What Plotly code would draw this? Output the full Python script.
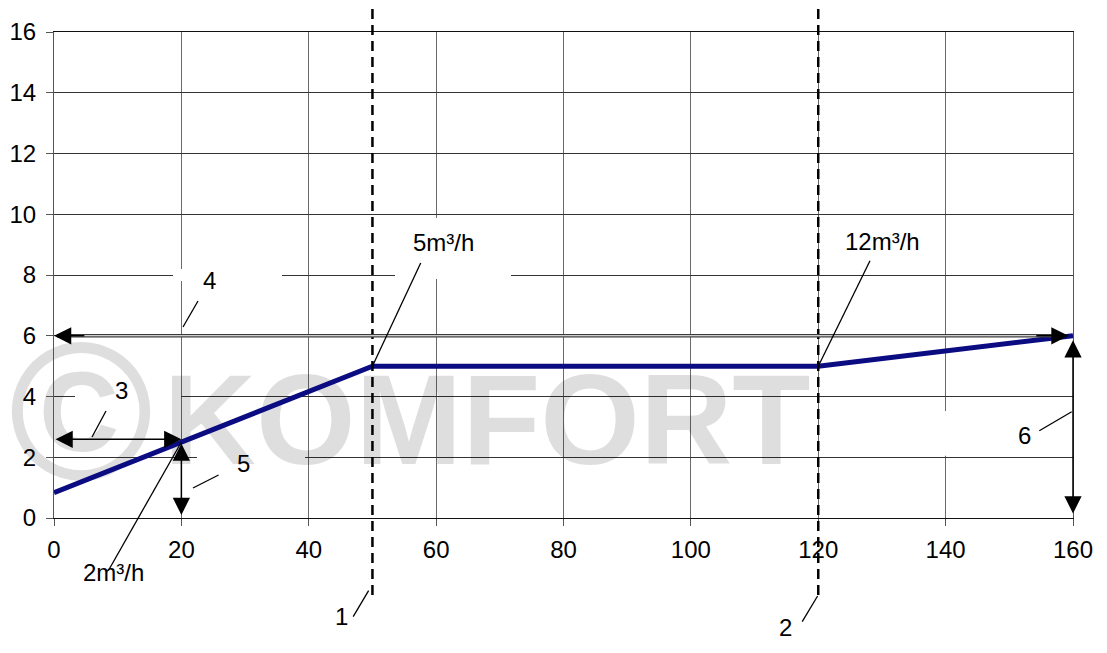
import plotly.graph_objects as go

# flow curve (x: 0..160, y: 0..16)
flow_x = [0, 20, 50, 120, 160]
flow_y = [0.83, 2.5, 5, 5, 6]

x_ticks = [0, 20, 40, 60, 80, 100, 120, 140, 160]
y_ticks = [0, 2, 4, 6, 8, 10, 12, 14, 16]

# vertical dashed markers and their numbers
marker_x = [50, 120]
marker_labels = ["1", "2"]

# flow point labels
flow_labels = ["2m³/h", "5m³/h", "12m³/h"]

FONT = "Liberation Sans, Arial, sans-serif"
# plot box in screen pixels; the page body adds an 8px margin
L, T, PW, PH = 54, 32, 1019, 486
PAGE = 8


def px_x(p):
    return (p - L) / PW * 160


def px_y(p):
    return (T + PH - p) / PH * 16


def paper_y(p):
    return (T + PH - p) / PH


fig = go.Figure()

# watermark
wm = "rgba(0,0,0,0.13)"
fig.add_trace(go.Scatter(
    x=[px_x(487)], y=[px_y(432)], mode="text", text=["KOMFORT"],
    textfont=dict(size=128, color=wm, family=FONT, weight="bold"),
    cliponaxis=False, hoverinfo="skip", showlegend=False,
))
fig.add_trace(go.Scatter(
    x=[px_x(81)], y=[px_y(430)], mode="text", text=["©"],
    textfont=dict(size=196, color=wm, family=FONT, weight="bold"),
    cliponaxis=False, hoverinfo="skip", showlegend=False,
))

fig.add_trace(go.Scatter(
    x=flow_x, y=flow_y, mode="lines",
    line=dict(color="#0b0b82", width=5),
    hoverinfo="skip", showlegend=False,
))

shapes = []

# white gaps in the grid
for x0, x1, y0, y1 in [
    (px_x(173), px_x(282), 7.8, 8.2),
    (px_x(395), px_x(511), px_y(279), px_y(218)),
    (px_x(75), px_x(181), 3.8, 4.2),
    (px_x(197), px_x(305), 1.8, 2.2),
    (139, 141, 2.05, 3.52),
]:
    shapes.append(dict(type="rect", xref="x", yref="y", x0=x0, x1=x1, y0=y0, y1=y1,
                       fillcolor="white", line=dict(width=0), layer="between"))

# dashed markers
for mx in marker_x:
    shapes.append(dict(type="line", xref="x", yref="paper", x0=mx, x1=mx,
                       y0=paper_y(595), y1=paper_y(8),
                       line=dict(color="black", width=2.5, dash="10px,6px")))

# double line of arrow 4
shapes.append(dict(type="line", xref="x", yref="y", x0=0.5, x1=158.5, y0=6, y1=6,
                   line=dict(color="#3a3a3a", width=3.5)))
shapes.append(dict(type="line", xref="x", yref="y", x0=0.5, x1=158.5, y0=6, y1=6,
                   line=dict(color="white", width=1)))

# leader lines inside the plot
for (ax0, ay0), (ax1, ay1) in [
    ((92, 437), (106, 411)),       # 3
    ((183, 327), (198, 301)),      # 4
    ((193, 488), (218.6, 475)),    # 5
    ((1039.3, 430.7), (1071.7, 411.7)),  # 6
    ((420.7, 263), (372.5, 366)),  # 5m3/h
    ((870, 260.7), (818.4, 366)),  # 12m3/h
]:
    shapes.append(dict(type="line", xref="x", yref="y",
                       x0=px_x(ax0), y0=px_y(ay0), x1=px_x(ax1), y1=px_y(ay1),
                       line=dict(color="black", width=1.3)))

# leader lines reaching below the axis
for (ax0, ay0), (ax1, ay1) in [
    ((353.2, 616.7), (368.6, 590.7)),   # 1
    ((802.2, 621.7), (817.6, 596)),     # 2
    ((108.3, 570.7), (181.4, 442)),     # 2m3/h
]:
    shapes.append(dict(type="line", xref="x", yref="paper",
                       x0=px_x(ax0), y0=paper_y(ay0), x1=px_x(ax1), y1=paper_y(ay1),
                       line=dict(color="black", width=1.3)))

annotations = []

arrow_style = dict(text="", showarrow=True, xref="x", yref="y", axref="x", ayref="y",
                   arrowhead=2, arrowsize=2.3, arrowwidth=1.5, arrowcolor="black",
                   standoff=0, startstandoff=0)
# double arrows 3, 5, 6
annotations.append(dict(x=20, y=2.59, ax=0, ay=2.59, arrowside="end+start", **arrow_style))
annotations.append(dict(x=20, y=2.45, ax=20, ay=0.05, arrowside="end+start", **arrow_style))
annotations.append(dict(x=160, y=5.85, ax=160, ay=0.1, arrowside="end+start", **arrow_style))
# heads of arrow 4
annotations.append(dict(x=0, y=6, ax=5, ay=6, **arrow_style))
annotations.append(dict(x=159.3, y=6, ax=154, ay=6, **arrow_style))

label_font = dict(family=FONT, size=24, color="black")
for txt, (tx, ty) in zip(["3", "4", "5", "6", flow_labels[1], flow_labels[2]],
                         [(121, 390), (209, 280), (243, 463), (1024, 435), (443, 242), (882, 241)]):
    annotations.append(dict(text=txt, x=px_x(tx), y=px_y(ty), xref="x", yref="y",
                            showarrow=False, font=label_font))
for txt, (tx, ty) in zip([marker_labels[0], marker_labels[1], flow_labels[0]],
                         [(341.7, 631.7), (785.6, 643.3), (113, 588)]):
    annotations.append(dict(text=txt, x=px_x(tx), y=paper_y(ty), xref="x", yref="paper",
                            showarrow=False, font=label_font))

W, H = 1107, 653
fig.update_layout(
    width=W, height=H,
    margin=dict(l=L - PAGE, r=W - (L - PAGE) - PW, t=T - PAGE, b=H - (T - PAGE) - PH,
                autoexpand=False),
    paper_bgcolor="white", plot_bgcolor="white",
    font=dict(family=FONT, size=24, color="black"),
    shapes=shapes, annotations=annotations,
    xaxis=dict(range=[0, 160], tickvals=x_ticks, showgrid=True, gridcolor="#6a6a6a", gridwidth=1,
               showline=True, linecolor="#111", linewidth=1, mirror=True, automargin=False,
               ticks="outside", ticklen=7, tickcolor="#555", zeroline=False,
               ticklabelstandoff=3, tickfont=dict(size=24)),
    yaxis=dict(range=[0, 16], tickvals=y_ticks, showgrid=True, gridcolor="#333", gridwidth=1,
               showline=True, linecolor="#555", linewidth=1, mirror=True, automargin=False,
               ticks="outside", ticklen=7, tickcolor="#555", zeroline=False,
               ticklabelstandoff=5, tickfont=dict(size=24)),
)

fig.write_html("out.html")
